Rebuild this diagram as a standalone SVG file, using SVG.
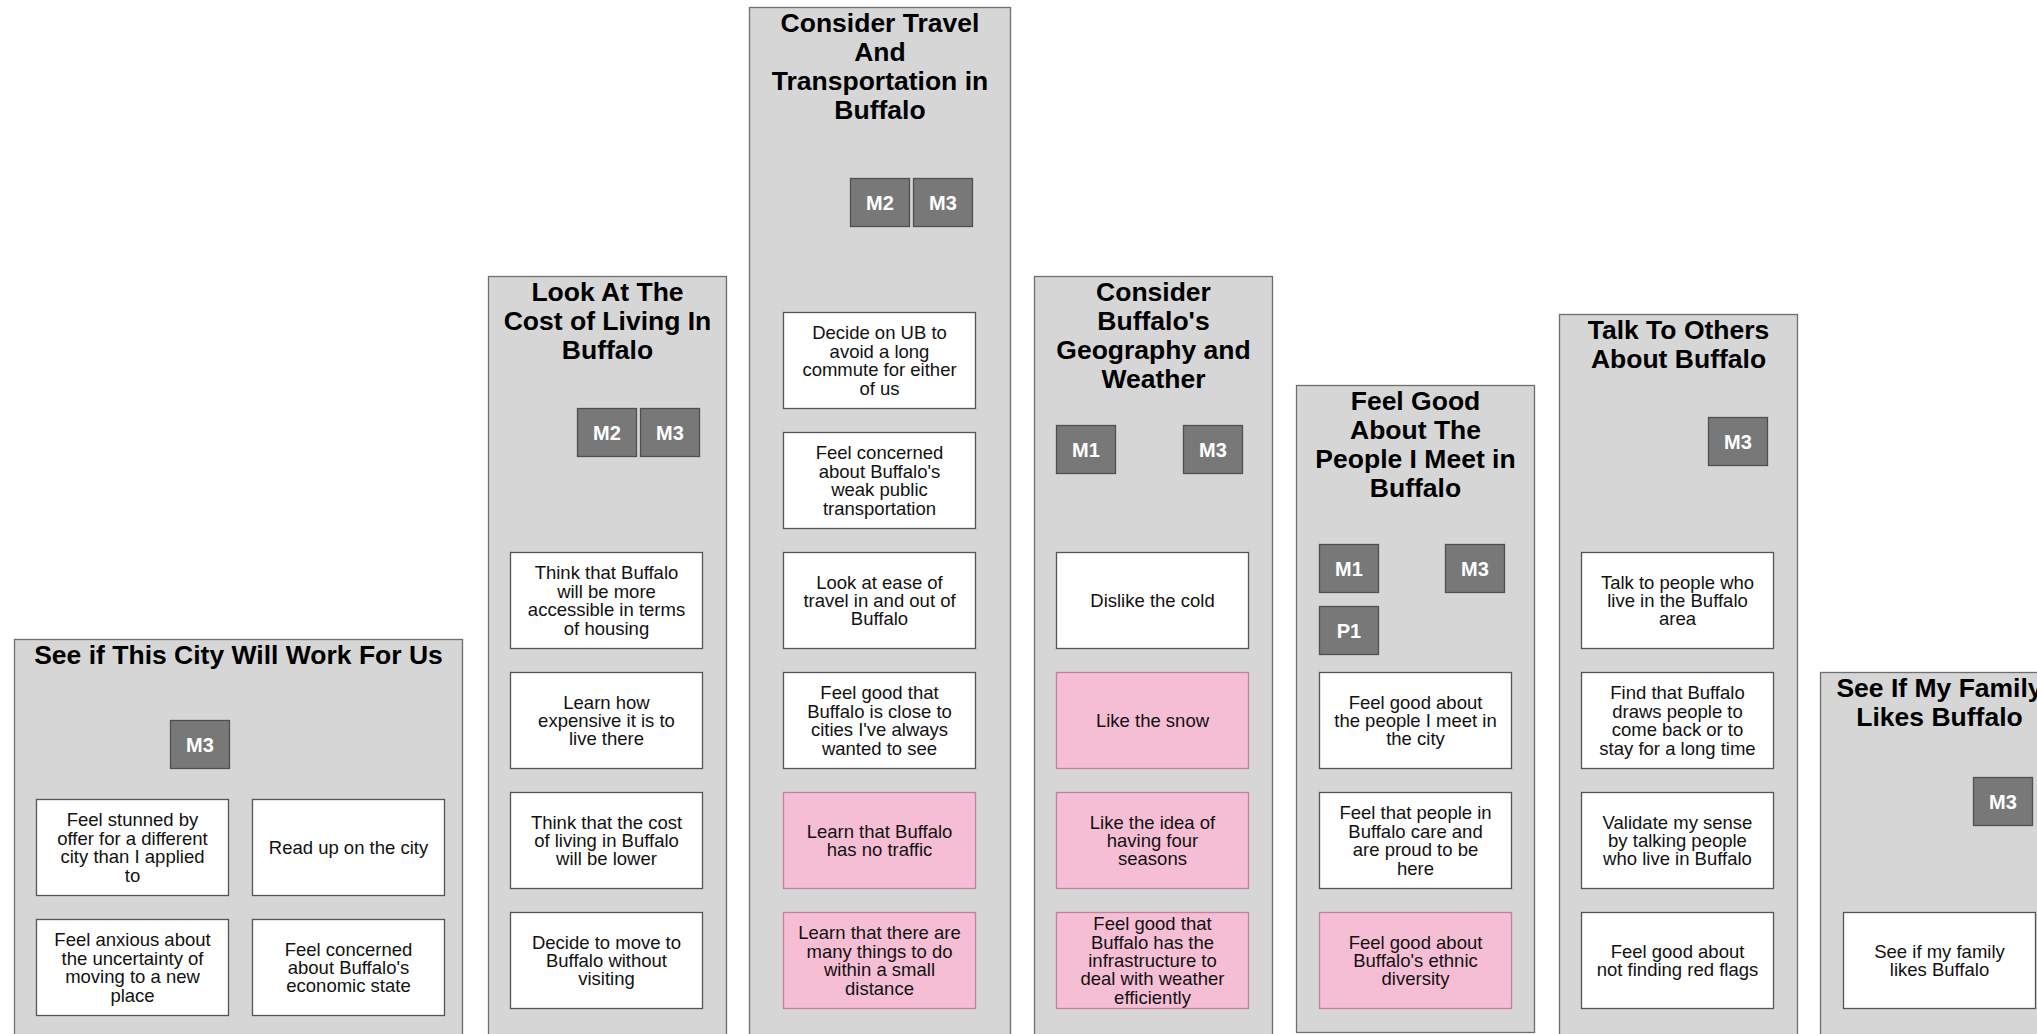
<svg xmlns="http://www.w3.org/2000/svg" width="2037" height="1034" viewBox="0 0 2037 1034">
<style>
.bg{fill:#ffffff}
.panel{fill:#d6d6d6;stroke:#6e6e6e;stroke-width:1.3}
.card{fill:#ffffff;stroke:#555555;stroke-width:1.3}
.pink{fill:#f6bed4;stroke:#c47fa0;stroke-width:1.3}
.badge{fill:#787878;stroke:#4f4f4f;stroke-width:1.3}
.title{font-family:"Liberation Sans",Arial,sans-serif;font-weight:bold;font-size:26.5px;fill:#000;text-anchor:middle}
.ct{font-family:"Liberation Sans",Arial,sans-serif;font-size:18.5px;fill:#111;text-anchor:middle}
.bt{font-family:"Liberation Sans",Arial,sans-serif;font-weight:bold;font-size:20px;fill:#fff;text-anchor:middle}
</style>
<rect class="bg" x="0" y="0" width="2037" height="1034"/>

<g id="panel-see-if-city">
<rect class="panel" x="14.5" y="639.5" width="448" height="420"/>
<text class="title" x="238.5" y="664">See if This City Will Work For Us</text>
<g id="p1-m3"><rect class="badge" x="170.5" y="720.5" width="59" height="48"/><text class="bt" x="200" y="751.5">M3</text></g>
<g id="p1-c1"><rect class="card" x="36.5" y="799.5" width="192" height="96"/><text class="ct" y="826.4"><tspan x="132.5">Feel stunned by</tspan><tspan x="132.5" dy="18.4">offer for a different</tspan><tspan x="132.5" dy="18.4">city than I applied</tspan><tspan x="132.5" dy="18.4">to</tspan></text></g>
<g id="p1-c2"><rect class="card" x="252.5" y="799.5" width="192" height="96"/><text class="ct" y="854"><tspan x="348.5">Read up on the city</tspan></text></g>
<g id="p1-c3"><rect class="card" x="36.5" y="919.5" width="192" height="96"/><text class="ct" y="946.4"><tspan x="132.5">Feel anxious about</tspan><tspan x="132.5" dy="18.4">the uncertainty of</tspan><tspan x="132.5" dy="18.4">moving to a new</tspan><tspan x="132.5" dy="18.4">place</tspan></text></g>
<g id="p1-c4"><rect class="card" x="252.5" y="919.5" width="192" height="96"/><text class="ct" y="955.6"><tspan x="348.5">Feel concerned</tspan><tspan x="348.5" dy="18.4">about Buffalo's</tspan><tspan x="348.5" dy="18.4">economic state</tspan></text></g>
</g>

<g id="panel-cost-of-living">
<rect class="panel" x="488.5" y="276.5" width="238" height="800"/>
<text class="title"><tspan x="607.5" y="300.5">Look At The</tspan><tspan x="607.5" y="329.5">Cost of Living In</tspan><tspan x="607.5" y="358.5">Buffalo</tspan></text>
<g id="p2-m2"><rect class="badge" x="577.5" y="408.5" width="59" height="48"/><text class="bt" x="607" y="439.5">M2</text></g>
<g id="p2-m3"><rect class="badge" x="640.5" y="408.5" width="59" height="48"/><text class="bt" x="670" y="439.5">M3</text></g>
<g id="p2-c1"><rect class="card" x="510.5" y="552.5" width="192" height="96"/><text class="ct" y="579.4"><tspan x="606.5">Think that Buffalo</tspan><tspan x="606.5" dy="18.4">will be more</tspan><tspan x="606.5" dy="18.4">accessible in terms</tspan><tspan x="606.5" dy="18.4">of housing</tspan></text></g>
<g id="p2-c2"><rect class="card" x="510.5" y="672.5" width="192" height="96"/><text class="ct" y="708.6"><tspan x="606.5">Learn how</tspan><tspan x="606.5" dy="18.4">expensive it is to</tspan><tspan x="606.5" dy="18.4">live there</tspan></text></g>
<g id="p2-c3"><rect class="card" x="510.5" y="792.5" width="192" height="96"/><text class="ct" y="828.6"><tspan x="606.5">Think that the cost</tspan><tspan x="606.5" dy="18.4">of living in Buffalo</tspan><tspan x="606.5" dy="18.4">will be lower</tspan></text></g>
<g id="p2-c4"><rect class="card" x="510.5" y="912.5" width="192" height="96"/><text class="ct" y="948.6"><tspan x="606.5">Decide to move to</tspan><tspan x="606.5" dy="18.4">Buffalo without</tspan><tspan x="606.5" dy="18.4">visiting</tspan></text></g>
</g>

<g id="panel-travel">
<rect class="panel" x="749.5" y="7.5" width="261" height="1100"/>
<text class="title"><tspan x="880" y="31.5">Consider Travel</tspan><tspan x="880" y="60.5">And</tspan><tspan x="880" y="89.5">Transportation in</tspan><tspan x="880" y="118.5">Buffalo</tspan></text>
<g id="p3-m2"><rect class="badge" x="850.5" y="178.5" width="59" height="48"/><text class="bt" x="880" y="209.5">M2</text></g>
<g id="p3-m3"><rect class="badge" x="913.5" y="178.5" width="59" height="48"/><text class="bt" x="943" y="209.5">M3</text></g>
<g id="p3-c1"><rect class="card" x="783.5" y="312.5" width="192" height="96"/><text class="ct" y="339.4"><tspan x="879.5">Decide on UB to</tspan><tspan x="879.5" dy="18.4">avoid a long</tspan><tspan x="879.5" dy="18.4">commute for either</tspan><tspan x="879.5" dy="18.4">of us</tspan></text></g>
<g id="p3-c2"><rect class="card" x="783.5" y="432.5" width="192" height="96"/><text class="ct" y="459.4"><tspan x="879.5">Feel concerned</tspan><tspan x="879.5" dy="18.4">about Buffalo's</tspan><tspan x="879.5" dy="18.4">weak public</tspan><tspan x="879.5" dy="18.4">transportation</tspan></text></g>
<g id="p3-c3"><rect class="card" x="783.5" y="552.5" width="192" height="96"/><text class="ct" y="588.6"><tspan x="879.5">Look at ease of</tspan><tspan x="879.5" dy="18.4">travel in and out of</tspan><tspan x="879.5" dy="18.4">Buffalo</tspan></text></g>
<g id="p3-c4"><rect class="card" x="783.5" y="672.5" width="192" height="96"/><text class="ct" y="699.4"><tspan x="879.5">Feel good that</tspan><tspan x="879.5" dy="18.4">Buffalo is close to</tspan><tspan x="879.5" dy="18.4">cities I've always</tspan><tspan x="879.5" dy="18.4">wanted to see</tspan></text></g>
<g id="p3-c5"><rect class="pink" x="783.5" y="792.5" width="192" height="96"/><text class="ct" y="837.8"><tspan x="879.5">Learn that Buffalo</tspan><tspan x="879.5" dy="18.4">has no traffic</tspan></text></g>
<g id="p3-c6"><rect class="pink" x="783.5" y="912.5" width="192" height="96"/><text class="ct" y="939.4"><tspan x="879.5">Learn that there are</tspan><tspan x="879.5" dy="18.4">many things to do</tspan><tspan x="879.5" dy="18.4">within a small</tspan><tspan x="879.5" dy="18.4">distance</tspan></text></g>
</g>

<g id="panel-geography">
<rect class="panel" x="1034.5" y="276.5" width="238" height="800"/>
<text class="title"><tspan x="1153.5" y="300.5">Consider</tspan><tspan x="1153.5" y="329.5">Buffalo's</tspan><tspan x="1153.5" y="358.5">Geography and</tspan><tspan x="1153.5" y="387.5">Weather</tspan></text>
<g id="p4-m1"><rect class="badge" x="1056.5" y="425.5" width="59" height="48"/><text class="bt" x="1086" y="456.5">M1</text></g>
<g id="p4-m3"><rect class="badge" x="1183.5" y="425.5" width="59" height="48"/><text class="bt" x="1213" y="456.5">M3</text></g>
<g id="p4-c1"><rect class="card" x="1056.5" y="552.5" width="192" height="96"/><text class="ct" y="607"><tspan x="1152.5">Dislike the cold</tspan></text></g>
<g id="p4-c2"><rect class="pink" x="1056.5" y="672.5" width="192" height="96"/><text class="ct" y="727"><tspan x="1152.5">Like the snow</tspan></text></g>
<g id="p4-c3"><rect class="pink" x="1056.5" y="792.5" width="192" height="96"/><text class="ct" y="828.6"><tspan x="1152.5">Like the idea of</tspan><tspan x="1152.5" dy="18.4">having four</tspan><tspan x="1152.5" dy="18.4">seasons</tspan></text></g>
<g id="p4-c4"><rect class="pink" x="1056.5" y="912.5" width="192" height="96"/><text class="ct" y="930.2"><tspan x="1152.5">Feel good that</tspan><tspan x="1152.5" dy="18.4">Buffalo has the</tspan><tspan x="1152.5" dy="18.4">infrastructure to</tspan><tspan x="1152.5" dy="18.4">deal with weather</tspan><tspan x="1152.5" dy="18.4">efficiently</tspan></text></g>
</g>

<g id="panel-people">
<rect class="panel" x="1296.5" y="385.5" width="238" height="647"/>
<text class="title"><tspan x="1415.5" y="409.5">Feel Good</tspan><tspan x="1415.5" y="438.5">About The</tspan><tspan x="1415.5" y="467.5">People I Meet in</tspan><tspan x="1415.5" y="496.5">Buffalo</tspan></text>
<g id="p5-m1"><rect class="badge" x="1319.5" y="544.5" width="59" height="48"/><text class="bt" x="1349" y="575.5">M1</text></g>
<g id="p5-m3"><rect class="badge" x="1445.5" y="544.5" width="59" height="48"/><text class="bt" x="1475" y="575.5">M3</text></g>
<g id="p5-p1"><rect class="badge" x="1319.5" y="606.5" width="59" height="48"/><text class="bt" x="1349" y="637.5">P1</text></g>
<g id="p5-c1"><rect class="card" x="1319.5" y="672.5" width="192" height="96"/><text class="ct" y="708.6"><tspan x="1415.5">Feel good about</tspan><tspan x="1415.5" dy="18.4">the people I meet in</tspan><tspan x="1415.5" dy="18.4">the city</tspan></text></g>
<g id="p5-c2"><rect class="card" x="1319.5" y="792.5" width="192" height="96"/><text class="ct" y="819.4"><tspan x="1415.5">Feel that people in</tspan><tspan x="1415.5" dy="18.4">Buffalo care and</tspan><tspan x="1415.5" dy="18.4">are proud to be</tspan><tspan x="1415.5" dy="18.4">here</tspan></text></g>
<g id="p5-c3"><rect class="pink" x="1319.5" y="912.5" width="192" height="96"/><text class="ct" y="948.6"><tspan x="1415.5">Feel good about</tspan><tspan x="1415.5" dy="18.4">Buffalo's ethnic</tspan><tspan x="1415.5" dy="18.4">diversity</tspan></text></g>
</g>

<g id="panel-talk">
<rect class="panel" x="1559.5" y="314.5" width="238" height="800"/>
<text class="title"><tspan x="1678.5" y="338.5">Talk To Others</tspan><tspan x="1678.5" y="367.5">About Buffalo</tspan></text>
<g id="p6-m3"><rect class="badge" x="1708.5" y="417.5" width="59" height="48"/><text class="bt" x="1738" y="448.5">M3</text></g>
<g id="p6-c1"><rect class="card" x="1581.5" y="552.5" width="192" height="96"/><text class="ct" y="588.6"><tspan x="1677.5">Talk to people who</tspan><tspan x="1677.5" dy="18.4">live in the Buffalo</tspan><tspan x="1677.5" dy="18.4">area</tspan></text></g>
<g id="p6-c2"><rect class="card" x="1581.5" y="672.5" width="192" height="96"/><text class="ct" y="699.4"><tspan x="1677.5">Find that Buffalo</tspan><tspan x="1677.5" dy="18.4">draws people to</tspan><tspan x="1677.5" dy="18.4">come back or to</tspan><tspan x="1677.5" dy="18.4">stay for a long time</tspan></text></g>
<g id="p6-c3"><rect class="card" x="1581.5" y="792.5" width="192" height="96"/><text class="ct" y="828.6"><tspan x="1677.5">Validate my sense</tspan><tspan x="1677.5" dy="18.4">by talking people</tspan><tspan x="1677.5" dy="18.4">who live in Buffalo</tspan></text></g>
<g id="p6-c4"><rect class="card" x="1581.5" y="912.5" width="192" height="96"/><text class="ct" y="957.8"><tspan x="1677.5">Feel good about</tspan><tspan x="1677.5" dy="18.4">not finding red flags</tspan></text></g>
</g>

<g id="panel-family">
<rect class="panel" x="1820.5" y="672.5" width="238" height="500"/>
<text class="title"><tspan x="1939.5" y="696.5">See If My Family</tspan><tspan x="1939.5" y="725.5">Likes Buffalo</tspan></text>
<g id="p7-m3"><rect class="badge" x="1973.5" y="777.5" width="59" height="48"/><text class="bt" x="2003" y="808.5">M3</text></g>
<g id="p7-c1"><rect class="card" x="1843.5" y="912.5" width="192" height="96"/><text class="ct" y="957.8"><tspan x="1939.5">See if my family</tspan><tspan x="1939.5" dy="18.4">likes Buffalo</tspan></text></g>
</g>

<g id="connectors"/>
</svg>
